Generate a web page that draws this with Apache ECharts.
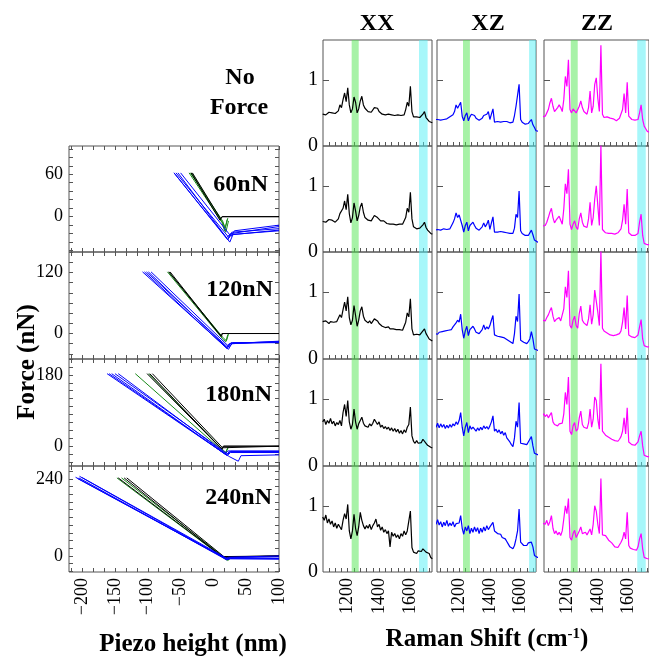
<!DOCTYPE html>
<html>
<head>
<meta charset="utf-8">
<script src="https://cdn.jsdelivr.net/npm/echarts@6/dist/echarts.min.js"></script>
<style>
html,body{margin:0;padding:0;background:#fff}
#main{width:649px;height:658px}
</style>
</head>
<body>
<div id="main"></div>
<script>
// ---- data ----
const loadNames = ['60nN', '120nN', '180nN', '240nN'];
const piezoLabels = [-200, -150, -100, -50, 0, 50, 100];
const forceMax = [100, 160, 220, 280];
const forceLabels = [[0, 60], [0, 120], [0, 180], [0, 240]];

// force curves, [piezo nm, force nN]
const green60 = [
  [[-37, 62], [13, -8], [17, -20], [21, -4]],
  [[-35, 62], [14, -6], [18, -16], [22, -2]],
  [[-33, 62], [15, -10], [19, -22], [23, -6]]
];
const black60 = [
  [[-34, 62], [10, -5], [13, 0], [100, 0]],
  [[-32, 62], [11, -3], [14, 0], [100, 0]]
];
const blue60 = [
  [[-60, 62], [22, -33], [26, -24], [100, -14]],
  [[-57, 62], [24, -30], [28, -22], [100, -17]],
  [[-54, 62], [25, -36], [30, -25], [100, -20]],
  [[-50, 62], [27, -28], [32, -20], [100, -12]],
  [[-60, 62], [20, -30], [24, -26], [100, -19]]
];
const green120 = [
  [[-70, 121], [15, -12], [19, -16], [22, -2]],
  [[-68, 121], [16, -10], [20, -14], [23, -1]]
];
const black120 = [
  [[-68, 121], [12, -6], [14, 0], [100, 0]],
  [[-66, 121], [11, -4], [13, 0], [100, 0]]
];
const blue120 = [
  [[-108, 121], [20, -28], [24, -20], [100, -17]],
  [[-105, 121], [21, -30], [26, -19], [100, -16]],
  [[-102, 121], [22, -27], [27, -18], [100, -18]],
  [[-99, 121], [23, -31], [28, -20], [100, -15]],
  [[-95, 121], [24, -26], [30, -18], [100, -17]]
];
const green180 = [
  [[-119, 183], [14, -12], [18, -18], [22, -4]],
  [[-99, 183], [15, -10], [19, -16], [23, -2]]
];
const black180 = [
  [[-101, 183], [12, -6], [15, 0], [100, 0]],
  [[-97, 183], [13, -8], [16, 0], [100, 0]],
  [[-93, 183], [14, -4], [17, 0], [100, 0]]
];
const blue180 = [
  [[-162, 183], [18, -20], [22, -12], [100, -12]],
  [[-159, 183], [20, -22], [24, -14], [100, -14]],
  [[-155, 183], [21, -24], [26, -16], [100, -16]],
  [[-150, 183], [22, -20], [27, -13], [100, -13]],
  [[-145, 183], [24, -26], [38, -38], [42, -24], [100, -22]]
];
const green240 = [
  [[-147, 243], [18, -10], [22, -14], [26, -6]],
  [[-140, 243], [19, -8], [23, -12], [27, -4]]
];
const black240 = [
  [[-145, 243], [14, -3], [17, 0], [100, 0]],
  [[-136, 243], [15, -5], [18, 0], [100, 0]],
  [[-132, 243], [16, -2], [19, 0], [100, 0]]
];
const blue240 = [
  [[-210, 245], [19, -8], [23, -4], [100, 0]],
  [[-207, 241], [20, -10], [24, -6], [100, -8]],
  [[-204, 248], [21, -11], [26, -8], [100, -10]],
  [[-200, 244], [22, -9], [27, -5], [100, -3]],
  [[-205, 243], [20, -12], [25, -9], [100, -9]]
];

// Raman spectra
const polarNames = ['XX', 'XZ', 'ZZ'];
const ramanLabels = [1200, 1400, 1600];
const greenBand = [1225, 1270];
const cyanBand = [1655, 1710];
const ramanX = [
  1040, 1050, 1060, 1070, 1080, 1090, 1100, 1110, 1120, 1130,
  1140, 1150, 1160, 1170, 1180, 1190, 1200, 1210, 1220, 1230,
  1240, 1250, 1260, 1270, 1280, 1290, 1300, 1310, 1320, 1330,
  1340, 1350, 1360, 1370, 1380, 1390, 1400, 1410, 1420, 1430,
  1440, 1450, 1460, 1470, 1480, 1490, 1500, 1510, 1520, 1530,
  1540, 1550, 1560, 1570, 1580, 1590, 1600, 1610, 1620, 1630,
  1640, 1650, 1660, 1670, 1680, 1690, 1700, 1710, 1720, 1730,
  1740
];

const xxNoForce = [
  0.48,0.50,0.47,0.49,0.51,0.48,0.50,0.52,0.49,0.51,
  0.53,0.62,0.58,0.70,0.80,0.67,0.88,0.62,0.50,0.56,
  0.74,0.66,0.50,0.56,0.68,0.75,0.62,0.57,0.54,0.52,
  0.55,0.51,0.53,0.58,0.56,0.57,0.52,0.50,0.48,0.51,
  0.47,0.46,0.48,0.45,0.47,0.44,0.46,0.45,0.47,0.44,
  0.46,0.45,0.47,0.55,0.66,0.60,0.90,0.52,0.44,0.42,
  0.44,0.41,0.43,0.42,0.48,0.52,0.43,0.40,0.37,0.36,
  0.35
];
const xx60 = [
  0.46,0.48,0.45,0.47,0.49,0.46,0.48,0.47,0.45,0.48,
  0.50,0.58,0.55,0.66,0.77,0.64,0.87,0.58,0.44,0.52,
  0.74,0.62,0.47,0.55,0.68,0.74,0.60,0.52,0.50,0.48,
  0.51,0.47,0.50,0.55,0.53,0.52,0.49,0.47,0.45,0.47,
  0.44,0.43,0.45,0.42,0.44,0.42,0.43,0.41,0.44,0.42,
  0.43,0.42,0.44,0.52,0.66,0.60,0.90,0.50,0.38,0.36,
  0.35,0.34,0.36,0.35,0.41,0.45,0.37,0.33,0.30,0.28,
  0.27
];
const xx120 = [
  0.56,0.54,0.57,0.55,0.53,0.56,0.54,0.55,0.53,0.56,
  0.58,0.66,0.62,0.74,0.85,0.72,0.93,0.62,0.51,0.58,
  0.80,0.65,0.49,0.58,0.72,0.78,0.64,0.58,0.56,0.54,
  0.57,0.53,0.55,0.60,0.59,0.57,0.53,0.51,0.49,0.50,
  0.47,0.46,0.48,0.45,0.47,0.45,0.46,0.44,0.46,0.44,
  0.45,0.43,0.45,0.55,0.69,0.63,0.90,0.45,0.36,0.35,
  0.37,0.35,0.36,0.38,0.42,0.45,0.38,0.34,0.30,0.28,
  0.27
];
const xx180 = [
  0.66,0.70,0.62,0.68,0.64,0.71,0.63,0.67,0.60,0.65,
  0.62,0.68,0.60,0.80,0.92,0.74,0.98,0.66,0.55,0.62,
  0.85,0.66,0.55,0.63,0.68,0.73,0.64,0.60,0.62,0.58,
  0.63,0.60,0.64,0.70,0.68,0.62,0.66,0.58,0.61,0.56,
  0.59,0.55,0.58,0.53,0.57,0.52,0.56,0.51,0.55,0.49,
  0.53,0.48,0.54,0.50,0.58,0.62,0.88,0.45,0.37,0.34,
  0.38,0.34,0.36,0.35,0.40,0.38,0.34,0.31,0.33,0.28,
  0.27
];
const xx240 = [
  0.83,0.78,0.86,0.74,0.80,0.72,0.77,0.68,0.74,0.66,
  0.72,0.68,0.64,0.78,0.88,0.80,1.02,0.62,0.50,0.62,
  0.87,0.66,0.55,0.68,0.90,0.78,0.70,0.65,0.70,0.66,
  0.72,0.64,0.70,0.74,0.80,0.68,0.72,0.63,0.68,0.60,
  0.64,0.58,0.62,0.38,0.60,0.54,0.58,0.52,0.56,0.50,
  0.58,0.54,0.62,0.56,0.62,0.60,0.92,0.37,0.30,0.33,
  0.28,0.32,0.29,0.31,0.35,0.33,0.30,0.27,0.28,0.22,
  0.20
];

const xzNoForce = [
  0.40,0.41,0.40,0.42,0.39,0.41,0.40,0.43,0.41,0.42,
  0.44,0.43,0.47,0.52,0.62,0.57,0.60,0.66,0.45,0.38,
  0.46,0.50,0.38,0.44,0.48,0.51,0.46,0.42,0.41,0.39,
  0.38,0.42,0.46,0.43,0.48,0.52,0.40,0.48,0.56,0.36,
  0.38,0.37,0.39,0.36,0.38,0.37,0.35,0.37,0.34,0.35,
  0.33,0.36,0.46,0.60,0.58,0.93,0.40,0.36,0.34,0.33,
  0.35,0.34,0.37,0.40,0.32,0.28,0.23,0.22,0.22,0.22,
  0.22
];
const xz60 = [
  0.33,0.32,0.34,0.31,0.33,0.32,0.35,0.33,0.34,0.36,
  0.35,0.38,0.44,0.50,0.59,0.52,0.56,0.58,0.40,0.30,
  0.40,0.45,0.32,0.40,0.42,0.45,0.40,0.36,0.35,0.33,
  0.32,0.38,0.44,0.38,0.42,0.48,0.34,0.44,0.53,0.30,
  0.28,0.30,0.29,0.31,0.28,0.30,0.27,0.29,0.27,0.28,
  0.26,0.28,0.36,0.57,0.52,0.92,0.32,0.28,0.26,0.25,
  0.23,0.25,0.28,0.33,0.26,0.18,0.15,0.15,0.15,0.15,
  0.15
];
const xz120 = [
  0.38,0.39,0.37,0.40,0.38,0.41,0.39,0.42,0.40,0.43,
  0.45,0.44,0.48,0.50,0.54,0.58,0.55,0.67,0.44,0.31,
  0.42,0.49,0.35,0.44,0.46,0.49,0.45,0.40,0.39,0.38,
  0.40,0.44,0.51,0.44,0.48,0.45,0.50,0.58,0.65,0.36,
  0.35,0.34,0.32,0.33,0.31,0.32,0.31,0.29,0.28,0.26,
  0.25,0.23,0.38,0.64,0.56,0.97,0.28,0.26,0.25,0.24,
  0.23,0.26,0.30,0.41,0.30,0.15,0.13,0.13,0.13,0.13,
  0.13
];
const xz180 = [
  0.62,0.58,0.64,0.57,0.63,0.58,0.62,0.56,0.61,0.57,
  0.62,0.58,0.63,0.60,0.66,0.62,0.68,0.80,0.58,0.45,
  0.58,0.65,0.50,0.60,0.55,0.58,0.55,0.52,0.57,0.53,
  0.58,0.54,0.60,0.56,0.59,0.55,0.60,0.66,0.75,0.52,
  0.55,0.50,0.54,0.48,0.52,0.46,0.50,0.42,0.44,0.36,
  0.32,0.29,0.42,0.67,0.58,0.95,0.34,0.36,0.33,0.35,
  0.32,0.36,0.40,0.44,0.30,0.19,0.17,0.17,0.17,0.17,
  0.17
];
const xz240 = [
  0.77,0.72,0.79,0.71,0.76,0.68,0.75,0.70,0.78,0.69,
  0.74,0.70,0.76,0.68,0.73,0.70,0.74,0.85,0.66,0.57,
  0.68,0.62,0.70,0.58,0.66,0.60,0.68,0.61,0.67,0.58,
  0.66,0.60,0.68,0.62,0.70,0.64,0.68,0.70,0.75,0.62,
  0.60,0.58,0.55,0.57,0.52,0.54,0.50,0.46,0.42,0.38,
  0.36,0.35,0.40,0.50,0.62,0.95,0.45,0.43,0.40,0.42,
  0.40,0.44,0.42,0.45,0.38,0.25,0.22,0.22,0.22,0.22,
  0.22
];

const zzNoForce = [
  0.44,0.46,0.45,0.50,0.55,0.65,0.72,0.60,0.52,0.55,
  0.58,0.62,0.58,0.52,0.70,1.05,0.90,1.30,0.55,0.50,
  0.56,0.58,0.50,0.48,0.60,0.68,0.58,0.52,0.49,0.48,
  0.58,0.83,0.50,0.60,0.93,1.03,0.72,0.52,1.52,0.48,
  0.43,0.42,0.44,0.41,0.42,0.40,0.41,0.39,0.38,0.40,
  0.42,0.45,0.55,0.79,0.50,0.96,0.45,0.42,0.40,0.38,
  0.39,0.38,0.40,0.50,0.62,0.40,0.30,0.26,0.22,0.20,
  0.20
];
const zz60 = [
  0.39,0.41,0.40,0.45,0.52,0.60,0.66,0.52,0.44,0.48,
  0.51,0.54,0.48,0.42,0.65,1.03,0.88,1.25,0.42,0.34,
  0.42,0.47,0.38,0.34,0.50,0.59,0.45,0.39,0.38,0.37,
  0.50,0.75,0.40,0.52,0.80,1.00,0.70,0.40,1.61,0.34,
  0.31,0.29,0.31,0.28,0.30,0.28,0.29,0.27,0.28,0.29,
  0.31,0.35,0.48,0.72,0.42,0.95,0.29,0.27,0.25,0.24,
  0.25,0.24,0.28,0.45,0.57,0.25,0.13,0.11,0.11,0.11,
  0.11
];
const zz120 = [
  0.58,0.60,0.57,0.62,0.66,0.72,0.77,0.64,0.56,0.59,
  0.60,0.62,0.57,0.55,0.75,1.08,0.92,1.32,0.50,0.46,
  0.58,0.64,0.50,0.46,0.68,0.79,0.58,0.54,0.52,0.50,
  0.60,0.81,0.52,0.66,1.03,1.01,0.70,0.50,1.62,0.46,
  0.42,0.40,0.39,0.37,0.36,0.38,0.35,0.34,0.36,0.35,
  0.38,0.42,0.55,0.77,0.45,0.95,0.36,0.34,0.33,0.31,
  0.32,0.31,0.36,0.48,0.59,0.30,0.20,0.18,0.18,0.18,
  0.18
];
const zz180 = [
  0.75,0.78,0.74,0.77,0.72,0.76,0.80,0.66,0.62,0.64,
  0.60,0.63,0.61,0.64,0.78,1.10,0.92,1.33,0.52,0.47,
  0.60,0.65,0.52,0.55,0.72,0.82,0.62,0.58,0.60,0.56,
  0.64,0.85,0.58,0.70,1.03,0.98,0.70,0.55,1.53,0.52,
  0.50,0.46,0.48,0.43,0.44,0.40,0.42,0.38,0.40,0.37,
  0.40,0.44,0.52,0.72,0.48,0.87,0.36,0.34,0.32,0.34,
  0.31,0.33,0.36,0.45,0.52,0.30,0.16,0.14,0.14,0.14,
  0.14
];
const zz240 = [
  0.74,0.77,0.72,0.78,0.70,0.76,0.85,0.66,0.58,0.62,
  0.56,0.60,0.55,0.62,0.80,1.00,0.88,1.11,0.52,0.48,
  0.58,0.63,0.52,0.55,0.62,0.68,0.58,0.55,0.60,0.56,
  0.58,0.65,0.56,0.72,1.00,0.92,0.72,0.58,1.41,0.56,
  0.58,0.55,0.52,0.48,0.50,0.44,0.42,0.38,0.40,0.37,
  0.40,0.45,0.50,0.60,0.50,0.90,0.40,0.36,0.35,0.34,
  0.35,0.33,0.38,0.50,0.58,0.35,0.22,0.20,0.20,0.20,
  0.20
];

// ---- layout ----
const FONT = 'Liberation Serif';
const BORDER = '#555';
const rowTop = [40, 146, 252, 359, 466];
const rowH = [106, 106, 107, 107, 106];
const colLeft = [323, 437, 544];
const colW = [109, 99, 109];
const colRange = [[1042, 1738], [1056, 1700], [1052, 1731]];
const colColor = ['#000000', '#0000ff', '#ff00ff'];
const spectra = [
  [xxNoForce, xx60, xx120, xx180, xx240],
  [xzNoForce, xz60, xz120, xz180, xz240],
  [zzNoForce, zz60, zz120, zz180, zz240]
];
const forceSets = [
  [green60, black60, blue60],
  [green120, black120, blue120],
  [green180, black180, blue180],
  [green240, black240, blue240]
];
const forceColors = ['#1a8a1a', '#000000', '#0000ff'];
const forceStep = [12, 20, 20, 24];

const fmtMinus = v => (v < 0 ? '\u2212' + (-v) : '' + v);
const fmtPlain = v => '' + v;

const grid = [], xAxis = [], yAxis = [], series = [];

function addGrid(left, top, width, height) {
  grid.push({
    show: true, left: left, top: top, width: width, height: height,
    borderColor: BORDER, borderWidth: 1, backgroundColor: 'transparent'
  });
  return grid.length - 1;
}

function tickAxis(extra) {
  return Object.assign({
    type: 'value',
    axisLine: { show: false, onZero: false },
    splitLine: { show: false }
  }, extra);
}

// force panels
const piezoTicks = [];
for (let k = -13; k <= 6; k++) piezoTicks.push(k * 50 / 3);

for (let i = 0; i < 4; i++) {
  const gi = addGrid(69, rowTop[i + 1], 210, rowH[i + 1]);
  const tickStyle = { inside: true, length: 4, customValues: piezoTicks, lineStyle: { color: BORDER } };
  const xb = xAxis.length;
  xAxis.push(tickAxis({
    gridIndex: gi, min: -220, max: 100, position: 'bottom',
    axisTick: tickStyle,
    axisLabel: {
      show: i === 3, rotate: 90, margin: 6, customValues: piezoLabels,
      formatter: fmtMinus, fontFamily: FONT, fontSize: 18, color: '#000'
    }
  }));
  xAxis.push(tickAxis({
    gridIndex: gi, min: -220, max: 100, position: 'top',
    axisTick: tickStyle, axisLabel: { show: false }
  }));
  const yt = [];
  for (let v = Math.ceil(-50 / forceStep[i]) * forceStep[i]; v <= forceMax[i]; v += forceStep[i]) yt.push(v);
  const yTick = { inside: true, length: 4, customValues: yt, lineStyle: { color: BORDER } };
  const yl = yAxis.length;
  yAxis.push(tickAxis({
    gridIndex: gi, min: -50, max: forceMax[i], position: 'left',
    axisTick: yTick,
    axisLabel: {
      customValues: forceLabels[i], margin: 6, formatter: fmtPlain,
      fontFamily: FONT, fontSize: 18, color: '#000'
    }
  }));
  yAxis.push(tickAxis({
    gridIndex: gi, min: -50, max: forceMax[i], position: 'right',
    axisTick: yTick, axisLabel: { show: false }
  }));
  forceSets[i].forEach((set, c) => {
    set.forEach(curve => {
      series.push({
        type: 'line', xAxisIndex: xb, yAxisIndex: yl, data: curve,
        showSymbol: false, silent: true, z: 2 + c,
        lineStyle: { color: forceColors[c], width: 1 }
      });
    });
  });
}

// Raman panels
for (let c = 0; c < 3; c++) {
  const [lo, hi] = colRange[c];
  const rTicks = [];
  for (let v = 1080; v <= 1720; v += 40) if (v > lo && v < hi) rTicks.push(v);
  for (let r = 0; r < 5; r++) {
    const gi = addGrid(colLeft[c], rowTop[r], colW[c], rowH[r]);
    const xi = xAxis.length;
    xAxis.push(tickAxis({
      gridIndex: gi, min: lo, max: hi, position: 'bottom',
      axisTick: { inside: true, length: 4, customValues: rTicks, lineStyle: { color: BORDER } },
      axisLabel: {
        show: r === 4, rotate: 90, margin: 6, customValues: ramanLabels, formatter: fmtPlain,
        fontFamily: FONT, fontSize: 18, color: '#000'
      }
    }));
    const yi = yAxis.length;
    yAxis.push(tickAxis({
      gridIndex: gi, min: 0, max: 1.6, position: 'left',
      axisTick: { inside: true, length: 6, customValues: [1], lineStyle: { color: BORDER } },
      axisLabel: {
        show: c === 0, customValues: [0, 1], margin: 5, formatter: fmtPlain,
        fontFamily: FONT, fontSize: 20, color: '#000'
      }
    }));
    series.push({
      type: 'line', xAxisIndex: xi, yAxisIndex: yi,
      data: ramanX.map((x, k) => [x, spectra[c][r][k]]),
      showSymbol: false, silent: true, z: 2,
      lineStyle: { color: colColor[c], width: 1.2 }
    });
    series.push({
      type: 'line', xAxisIndex: xi, yAxisIndex: yi, data: [], z: 10, silent: true,
      markArea: {
        silent: true,
        data: [
          [{ xAxis: greenBand[0], itemStyle: { color: 'rgba(80,230,80,0.5)' } }, { xAxis: greenBand[1] }],
          [{ xAxis: cyanBand[0], itemStyle: { color: 'rgba(80,240,245,0.5)' } }, { xAxis: cyanBand[1] }]
        ]
      }
    });
  }
}

const bold = size => 'bold ' + size + 'px "' + FONT + '"';
const txt = (x, y, text, size, align, rot) => ({
  type: 'text', x: x, y: y, rotation: rot || 0, silent: true,
  style: { text: text, font: bold(size), fill: '#000', textAlign: align || 'center', textVerticalAlign: 'middle' }
});

const graphic = [
  txt(240, 78, 'No', 24),
  txt(239, 108, 'Force', 24),
  txt(377, 24, polarNames[0], 24),
  txt(488, 24, polarNames[1], 24),
  txt(597, 24, polarNames[2], 24),
  txt(268, 185, loadNames[0], 24, 'right'),
  txt(273, 290, loadNames[1], 24, 'right'),
  txt(272, 395, loadNames[2], 24, 'right'),
  txt(272, 498, loadNames[3], 24, 'right'),
  txt(28, 362, 'Force (nN)', 25, 'center', Math.PI / 2),
  txt(193, 645, 'Piezo height (nm)', 25),
  {
    type: 'text', x: 487, y: 640, silent: true,
    style: {
      text: '{a|Raman Shift (cm}{s|-1}{a|)}',
      textAlign: 'center', textVerticalAlign: 'middle',
      rich: {
        a: { font: bold(25), fill: '#000' },
        s: { font: bold(15), fill: '#000', padding: [0, 0, 12, 0] }
      }
    }
  }
];

const chart = echarts.init(document.getElementById('main'));
chart.setOption({
  animation: false,
  grid: grid,
  xAxis: xAxis,
  yAxis: yAxis,
  series: series,
  graphic: graphic
});
</script>
</body>
</html>
